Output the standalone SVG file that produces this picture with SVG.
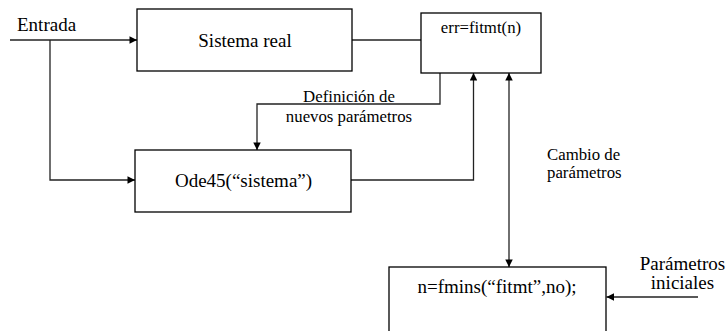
<svg xmlns="http://www.w3.org/2000/svg" width="728" height="331" viewBox="0 0 728 331">
  <style>
    .box { fill: #fff; stroke: #000; stroke-width: 1.3; }
    .wire { fill: none; stroke: #222; stroke-width: 1.3; }
    text { font-family: 'Liberation Serif', 'DejaVu Serif', serif; fill: #000; }
    .big { font-size: 19px; }
    .small { font-size: 16.8px; }
  </style>
  <defs>
    <marker id="arrow" viewBox="0 0 10 10" refX="10" refY="5" markerWidth="8" markerHeight="7.5" markerUnits="userSpaceOnUse" orient="auto-start-reverse">
      <path d="M0,0 L10,5 L0,10 Z" fill="#000"/>
    </marker>
  </defs>

  <!-- connectors -->
  <g id="connectors">
    <!-- input to the real system -->
    <path class="wire" d="M10,40 H137" marker-end="url(#arrow)"/>
    <!-- input branch to the simulated system -->
    <path class="wire" d="M50,40 V180 H135" marker-end="url(#arrow)"/>
    <!-- real system output to the error function -->
    <path class="wire" d="M352,40 H421"/>
    <!-- new parameters back to the simulation -->
    <path class="wire" d="M440,73 V104 H257 V150" marker-end="url(#arrow)"/>
    <!-- simulation output to the error function -->
    <path class="wire" d="M351,180 H473.5 V73" marker-end="url(#arrow)"/>
    <!-- parameter exchange between optimizer and error function -->
    <path class="wire" d="M509,73 V267" marker-start="url(#arrow)" marker-end="url(#arrow)"/>
    <!-- initial parameters into the optimizer -->
    <path class="wire" d="M698,297 H606.5" marker-end="url(#arrow)"/>
  </g>

  <g id="entrada">
    <text class="big" x="17" y="31">Entrada</text>
  </g>

  <g id="sistema-real">
    <rect class="box" x="137" y="9" width="215" height="62"/>
    <text class="big" x="245" y="47" text-anchor="middle">Sistema real</text>
  </g>

  <g id="fitmt">
    <rect class="box" x="421" y="13" width="120" height="60"/>
    <text class="small" x="481" y="33" text-anchor="middle">err=fitmt(n)</text>
  </g>

  <g id="definicion-label">
    <text class="small" x="349" y="101.5" text-anchor="middle">Definición de</text>
    <text class="small" x="349" y="121.5" text-anchor="middle">nuevos parámetros</text>
  </g>

  <g id="ode45">
    <rect class="box" x="135" y="150" width="216" height="62"/>
    <text class="big" x="243.5" y="187" text-anchor="middle">Ode45(“sistema”)</text>
  </g>

  <g id="cambio-label">
    <text class="small" x="547" y="160">Cambio de</text>
    <text class="small" x="547" y="178">parámetros</text>
  </g>

  <g id="fmins">
    <rect class="box" x="389" y="267" width="217" height="80"/>
    <text class="big" x="497" y="293" text-anchor="middle">n=fmins(“fitmt”,no);</text>
  </g>

  <g id="iniciales-label">
    <text class="big" x="682.5" y="269.5" text-anchor="middle">Parámetros</text>
    <text class="big" x="682.5" y="289" text-anchor="middle">iniciales</text>
  </g>
</svg>
